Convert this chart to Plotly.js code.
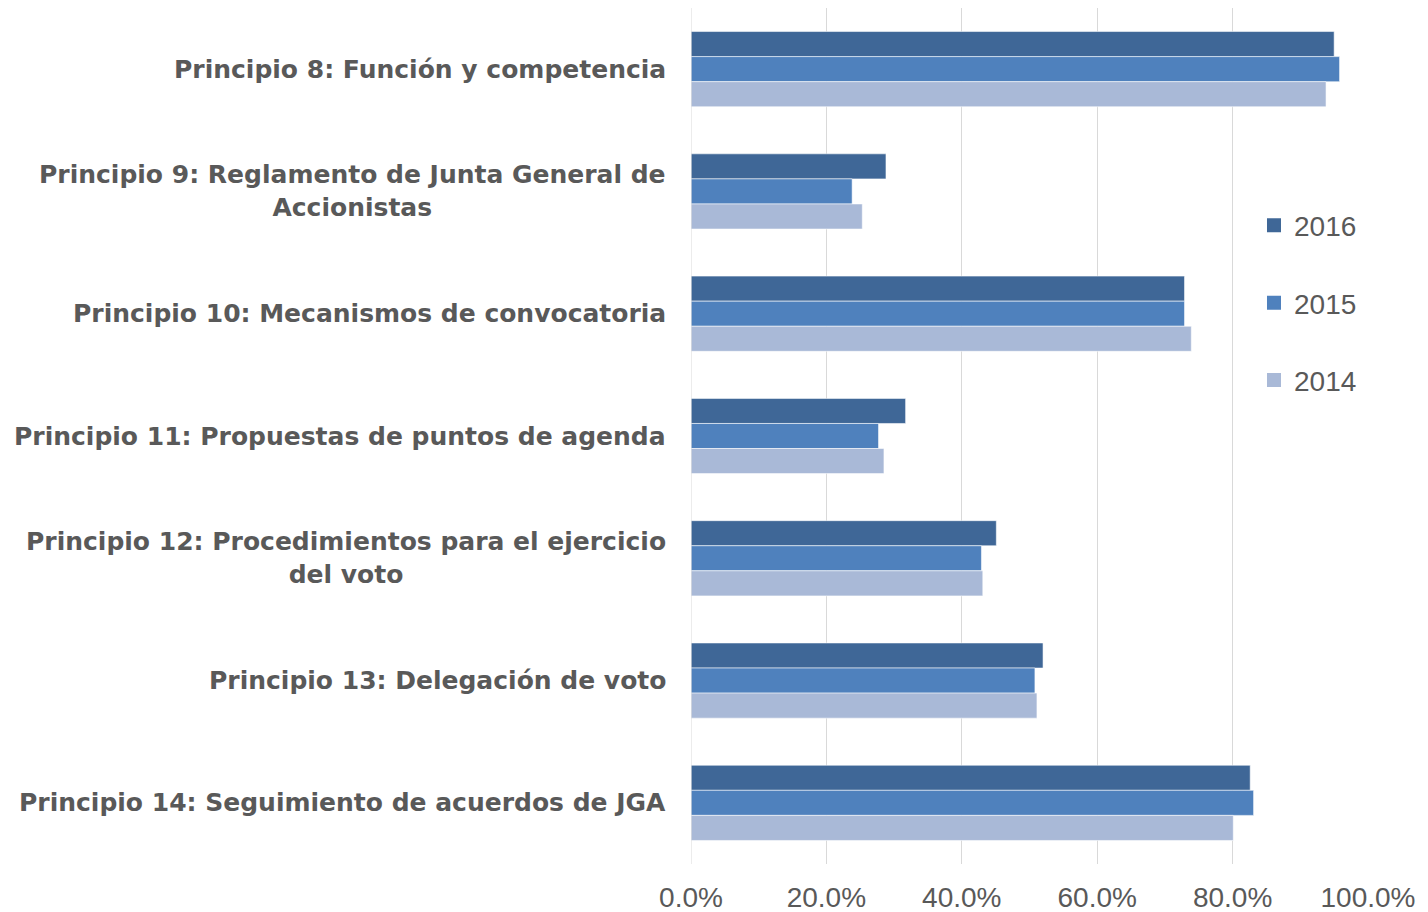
<!DOCTYPE html>
<html>
<head>
<meta charset="utf-8">
<script src="https://cdn.plot.ly/plotly-3.0.1.min.js"></script>
<style>html,body{margin:0;padding:0;background:#fff;}#chart{width:1428px;height:912px;}</style>
</head>
<body>
<div id="chart"></div>
<script>
const categories = [
  "Principio 8: Función y competencia",
  "Principio 9: Reglamento de Junta General de<br>Accionistas",
  "Principio 10: Mecanismos de convocatoria",
  "Principio 11: Propuestas de puntos de agenda",
  "Principio 12: Procedimientos para el ejercicio<br>del voto",
  "Principio 13: Delegación de voto",
  "Principio 14: Seguimiento de acuerdos de JGA"
];
const v2016 = [0.950, 0.288, 0.729, 0.317, 0.451, 0.520, 0.826];
const v2015 = [0.958, 0.238, 0.729, 0.277, 0.429, 0.508, 0.831];
const v2014 = [0.938, 0.253, 0.739, 0.285, 0.431, 0.511, 0.801];
const seriesNames = ["2016", "2015", "2014"];
const seriesColors = ["#3F6797", "#4F81BD", "#A9B9D7"];
const tickVals = [0, 0.2, 0.4, 0.6, 0.8, 1.0];
const tickText = ["0.0%", "20.0%", "40.0%", "60.0%", "80.0%", "100.0%"];

const allVals = [v2016, v2015, v2014];
const traces = allVals.map((vals, i) => ({
  type: 'bar',
  orientation: 'h',
  name: seriesNames[i],
  y: categories,
  x: vals,
  showlegend: false,
  marker: {color: seriesColors[i], line: {color: 'rgba(255,255,255,0.55)', width: 1}},
  hoverinfo: 'x+y'
}));
// legend entries with larger square swatches
seriesNames.forEach((n, i) => {
  traces.push({
    type: 'scatter', mode: 'markers', name: n,
    x: [null], y: [null],
    legendgroup: 'g' + i,
    marker: {symbol: 'square', size: 14, color: seriesColors[i]},
    showlegend: true
  });
});

const labelFont = {family: 'DejaVu Sans, Liberation Sans, Arial, sans-serif', size: 25, color: '#595959', weight: 'bold'};
const annotations = categories.map(c => ({
  xref: 'paper', yref: 'y', x: 0, y: c, xanchor: 'right', yanchor: 'middle',
  xshift: -23, text: c, showarrow: false, align: 'center', font: labelFont
}));

const layout = {
  width: 1428, height: 912,
  paper_bgcolor: '#fff', plot_bgcolor: '#fff',
  margin: {l: 691, r: 60, t: 8, b: 48, pad: 0},
  barmode: 'group',
  bargap: 0.385,
  bargroupgap: 0,
  font: {family: 'Liberation Sans, Arial, sans-serif', color: '#595959', size: 20},
  xaxis: {
    range: [0, 1.0],
    tickvals: tickVals, ticktext: tickText,
    showgrid: true, gridcolor: '#D9D9D9', gridwidth: 1,
    zeroline: false, showline: false, ticks: '',
    ticklabelstandoff: 14,
    tickfont: {size: 28, color: '#595959'}
  },
  yaxis: {
    autorange: 'reversed',
    showgrid: false, zeroline: false, showline: false, ticks: '',
    showticklabels: false
  },
  annotations: annotations,
  shapes: [{type: 'line', xref: 'x', yref: 'paper', x0: 0, x1: 0, y0: 0, y1: 1, line: {color: '#D9D9D9', width: 1}}],
  showlegend: true,
  legend: {
    x: 0.8316, xanchor: 'left', y: 0.775, yanchor: 'top',
    traceorder: 'grouped', tracegroupgap: 38,
    font: {size: 28, color: '#595959'},
    itemwidth: 30, bgcolor: 'rgba(0,0,0,0)'
  }
};

Plotly.newPlot('chart', traces, layout, {displayModeBar: false, staticPlot: true});
</script>
</body>
</html>
